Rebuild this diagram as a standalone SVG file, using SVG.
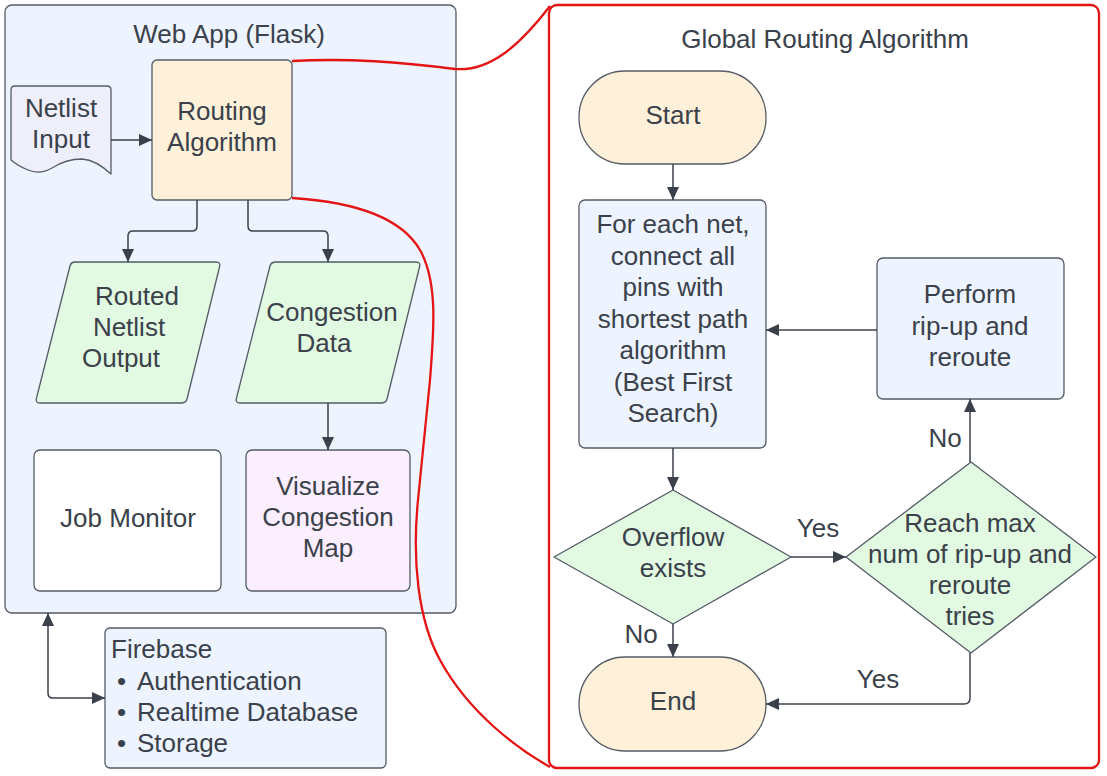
<svg xmlns="http://www.w3.org/2000/svg" width="1107" height="776" viewBox="0 0 1107 776">
<style>
text{font-family:"Liberation Sans",Arial,sans-serif;font-size:26px;fill:#3A414A}
.c{text-anchor:middle}
.sh{stroke:#545B66;stroke-width:1.3;stroke-linejoin:round}
.blue{fill:#EDF4FF}
.cream{fill:#FFF1D9}
.green{fill:#E2F9E2}
.pink{fill:#FAEEFF}
.lav{fill:#EFEFFC}
.white{fill:#FFFFFF}
.cn{fill:none;stroke:#3A414A;stroke-width:1.5}
.red{fill:none;stroke:#E51414;stroke-width:2.3}
</style>
<defs>
<marker id="ah" viewBox="0 0 13 12" refX="13" refY="6" markerWidth="13" markerHeight="12" orient="auto-start-reverse" markerUnits="userSpaceOnUse">
<path d="M0,0 L13,6 L0,12 z" fill="#3A414A"/>
</marker>
</defs>
<rect width="1107" height="776" fill="#FFFFFF"/>

<g id="webapp">
<rect class="sh blue" x="5" y="5" width="451" height="608" rx="7"/>
<text class="c" x="229" y="43">Web App (Flask)</text>
</g>

<g id="global-routing">
<rect x="549" y="5" width="550" height="763" rx="8" fill="#FFFFFF" stroke="#E51414" stroke-width="2.3"/>
<text class="c" x="825" y="48">Global Routing Algorithm</text>
</g>

<g id="netlist-input">
<path class="sh lav" d="M15 86 H107 Q111 86 111 90 V174 Q96 160 82 159 Q66 159 52 168 Q40 175 28 170 Q18 166 11 160 V90 Q11 86 15 86 Z"/>
<text class="c" x="61" y="117">Netlist</text>
<text class="c" x="61" y="148">Input</text>
</g>

<g id="routing-algorithm">
<rect class="sh cream" x="152" y="60" width="140" height="140" rx="5"/>
<text class="c" x="222" y="120">Routing</text>
<text class="c" x="222" y="151">Algorithm</text>
</g>

<g id="routed-netlist-output">
<path class="sh green" d="M75 262 H216 Q221 262 219.5 267 L187 399 Q186 403 181 403 H40 Q35 403 36.5 398 L70 266 Q71 262 75 262 Z"/>
<text class="c" x="137" y="305">Routed</text>
<text class="c" x="129" y="336">Netlist</text>
<text class="c" x="121" y="367">Output</text>
</g>

<g id="congestion-data">
<path class="sh green" d="M276 262 H416 Q421 262 419.5 267 L387 399 Q386 403 381 403 H240 Q235 403 236.5 398 L270 266 Q271 262 276 262 Z"/>
<text class="c" x="332" y="321">Congestion</text>
<text class="c" x="324" y="352">Data</text>
</g>

<g id="job-monitor">
<rect class="sh white" x="34" y="450" width="187" height="141" rx="6"/>
<text class="c" x="128" y="527">Job Monitor</text>
</g>

<g id="visualize-congestion-map">
<rect class="sh pink" x="246" y="450" width="164" height="141" rx="6"/>
<text class="c" x="328" y="495">Visualize</text>
<text class="c" x="328" y="526">Congestion</text>
<text class="c" x="328" y="557">Map</text>
</g>

<g id="firebase">
<rect class="sh blue" x="105" y="628" width="281" height="140" rx="5"/>
<text x="111" y="658">Firebase</text>
<text x="117" y="690">•</text><text x="137" y="690">Authentication</text>
<text x="117" y="721">•</text><text x="137" y="721">Realtime Database</text>
<text x="117" y="752">•</text><text x="137" y="752">Storage</text>
</g>

<g id="start">
<rect class="sh cream" x="579" y="71" width="187" height="93" rx="46" ry="46"/>
<text class="c" x="673" y="124">Start</text>
</g>

<g id="for-each-net">
<rect class="sh blue" x="579" y="200" width="187" height="248" rx="6"/>
<text class="c" x="673" y="233">For each net,</text>
<text class="c" x="673" y="264.5">connect all</text>
<text class="c" x="673" y="296">pins with</text>
<text class="c" x="673" y="327.5">shortest path</text>
<text class="c" x="673" y="359">algorithm</text>
<text class="c" x="673" y="390.5">(Best First</text>
<text class="c" x="673" y="422">Search)</text>
</g>

<g id="perform-ripup">
<rect class="sh blue" x="877" y="258" width="187" height="141" rx="6"/>
<text class="c" x="970" y="303">Perform</text>
<text class="c" x="970" y="334.5">rip-up and</text>
<text class="c" x="970" y="366">reroute</text>
</g>

<g id="overflow-exists">
<path class="sh green" d="M673 490 L791 557 L673 624 L554 557 Z"/>
<text class="c" x="673" y="546">Overflow</text>
<text class="c" x="673" y="577">exists</text>
</g>

<g id="reach-max">
<path class="sh green" d="M971 462 L1096 557 L971 653 L846 557 Z"/>
<text class="c" x="970" y="532">Reach max</text>
<text class="c" x="970" y="563">num of rip-up and</text>
<text class="c" x="970" y="594">reroute</text>
<text class="c" x="970" y="625">tries</text>
</g>

<g id="end">
<rect class="sh cream" x="579" y="657" width="187" height="94" rx="46" ry="47"/>
<text class="c" x="673" y="710">End</text>
</g>

<g id="connectors">
<path class="cn" d="M111 140 H152" marker-end="url(#ah)"/>
<path class="cn" d="M197 200 V226 Q197 231 192 231 H133 Q128 231 128 236 V262" marker-end="url(#ah)"/>
<path class="cn" d="M248 200 V226 Q248 231 253 231 H323 Q328 231 328 236 V262" marker-end="url(#ah)"/>
<path class="cn" d="M328 403 V450" marker-end="url(#ah)"/>
<path class="cn" d="M48 613 V693 Q48 698 53 698 H105" marker-start="url(#ah)" marker-end="url(#ah)"/>
<path class="cn" d="M673 164 V200" marker-end="url(#ah)"/>
<path class="cn" d="M877 330 H766" marker-end="url(#ah)"/>
<path class="cn" d="M673 448 V490" marker-end="url(#ah)"/>
<path class="cn" d="M791 557 H846" marker-end="url(#ah)"/>
<path class="cn" d="M970 462 V399" marker-end="url(#ah)"/>
<path class="cn" d="M970 653 V698 Q970 704 964 704 H766" marker-end="url(#ah)"/>
<path class="cn" d="M673 624 V657" marker-end="url(#ah)"/>
<text class="c" x="818" y="537">Yes</text>
<text class="c" x="945" y="447">No</text>
<text class="c" x="878" y="688">Yes</text>
<text class="c" x="641" y="643">No</text>
<path class="red" d="M292 61 C350 58 400 62 455 69 C490 72 520 45 550 6"/>
<path class="red" d="M292 198 C340 201 398 212 420 250 C438 282 434 330 430 380 L418 500 C412 560 418 620 440 660 C470 715 520 750 550 767"/>
</g>
</svg>
